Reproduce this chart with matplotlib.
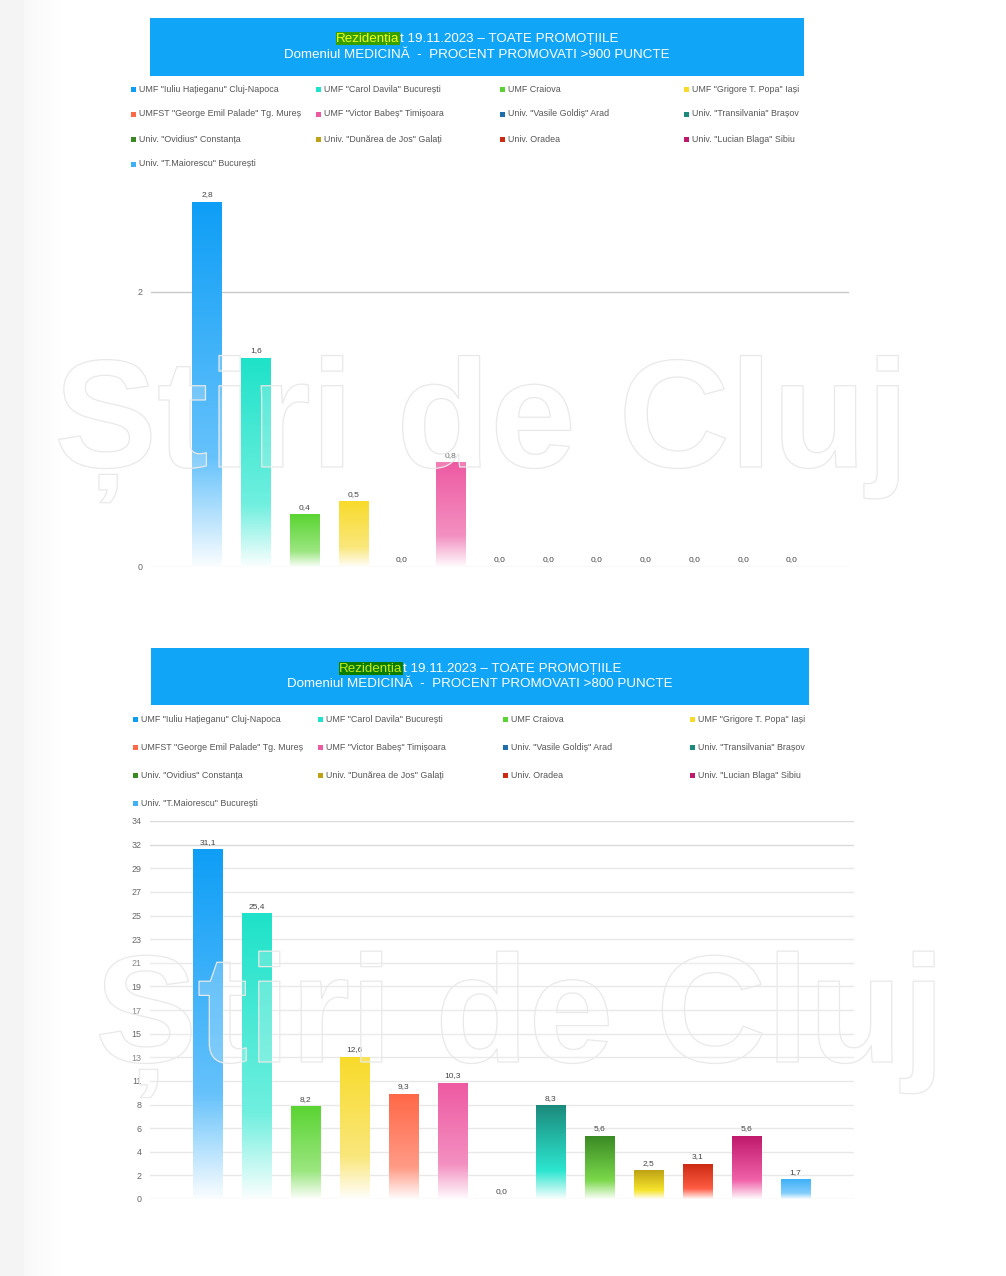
import numpy as np
import matplotlib
matplotlib.use('Agg')
import matplotlib.pyplot as plt
from matplotlib.patches import Rectangle
import matplotlib.patheffects as pe
from matplotlib.colors import to_rgb

plt.rcParams['font.family'] = ['Liberation Sans', 'DejaVu Sans']

# ---------------- data ----------------
universities = [
    'UMF "Iuliu Hațieganu" Cluj-Napoca',
    'UMF "Carol Davila" București',
    'UMF Craiova',
    'UMF "Grigore T. Popa" Iași',
    'UMFST "George Emil Palade" Tg. Mureș',
    'UMF "Victor Babeș" Timișoara',
    'Univ. "Vasile Goldiș" Arad',
    'Univ. "Transilvania" Brașov',
    'Univ. "Ovidius" Constanța',
    'Univ. "Dunărea de Jos" Galați',
    'Univ. Oradea',
    'Univ. "Lucian Blaga" Sibiu',
    'Univ. "T.Maiorescu" București',
]
values_900 = [2.8, 1.6, 0.4, 0.5, 0.0, 0.8, 0.0, 0.0, 0.0, 0.0, 0.0, 0.0, 0.0]
values_800 = [31.1, 25.4, 8.2, 12.6, 9.3, 10.3, 0.0, 8.3, 5.6, 2.5, 3.1, 5.6, 1.7]
ytick_labels_900 = ['0', '2']
ytick_labels_800 = ['0', '2', '4', '6', '8', '11', '13', '15', '17', '19',
                    '21', '23', '25', '27', '29', '32', '34']
title_highlight = 'Rezidenția'
title_line1_rest = 't 19.11.2023 – TOATE PROMOȚIILE'
title_line2_900 = 'Domeniul MEDICINĂ  -  PROCENT PROMOVATI >900 PUNCTE'
title_line2_800 = 'Domeniul MEDICINĂ  -  PROCENT PROMOVATI >800 PUNCTE'
watermark_text = 'Știri de Cluj'

# ---------------- styles ----------------
colors_top = ['#0e9ef6', '#1ee2c9', '#5ad432', '#f8db2a', '#ff6848', '#ee5aa2',
              '#1f6fae', '#1b8a7c', '#3a8a24', '#bea215', '#cc2a12', '#c0196c', '#3fb1f8']
colors_mid = ['#66c2fb', '#70efdf', '#9be680', '#fae77c', '#ff9b86', '#f390c1',
              '#6aa6d4', '#2de6d0', '#7ad84a', '#f6e42c', '#ff5c44', '#f062a9', '#82cdfb']

W, H = 1006, 1276
fig = plt.figure(figsize=(W / 100, H / 100), dpi=100)
fig.patch.set_facecolor('white')


def fx(x):
    return x / W


def fy(y):
    return 1 - y / H


# left gray strip
bg = fig.add_axes([0, 0, 60 / W, 1])
grad = np.ones((1, 60, 3))
for k in range(60):
    v = 0.958 if k < 24 else 0.975 + (1 - 0.975) * (k - 24) / 36
    grad[0, k, :] = v
bg.imshow(grad, aspect='auto', extent=[0, 1, 0, 1])
bg.axis('off')

renderer = fig.canvas.get_renderer()


def title_box(x0, x1, y0, y1, line2, hl_bg, hl_fg):
    fig.patches.append(Rectangle((fx(x0), fy(y1)), (x1 - x0) / W, (y1 - y0) / H,
                                 transform=fig.transFigure, facecolor='#10a5f6',
                                 edgecolor='none', zorder=1))
    cx = (x0 + x1) / 2
    yl1 = y0 + (y1 - y0) * 0.36
    yl2 = y0 + (y1 - y0) * 0.64
    fs = 9.6
    fig.text(fx(cx), fy(yl2), line2, ha='center', va='center', fontsize=fs,
             color='white', zorder=3)
    t1 = fig.text(0, fy(yl1), title_highlight, ha='left', va='center', fontsize=fs,
                  color=hl_fg, zorder=3,
                  bbox=dict(facecolor=hl_bg, edgecolor='none', pad=0.4))
    t2 = fig.text(0, fy(yl1), title_line1_rest, ha='left', va='center', fontsize=fs,
                  color='white', zorder=4)
    w1 = t1.get_window_extent(renderer).width
    w2 = t2.get_window_extent(renderer).width
    xs = cx - (w1 + w2) / 2
    t1.set_x(fx(xs))
    t2.set_x(fx(xs + w1 + 0.5))


def legend(cols_x, rows_y):
    for i, name in enumerate(universities):
        c, r = i % 4, i // 4
        x, y = cols_x[c], rows_y[r]
        fig.patches.append(Rectangle((fx(x), fy(y + 2.5)), 5 / W, 5 / H,
                                     transform=fig.transFigure,
                                     facecolor=colors_top[i], edgecolor='none'))
        fig.text(fx(x + 8), fy(y), name, ha='left', va='center', fontsize=6.4,
                 color='#555555')


def grad_img(top, mid):
    n = 200
    t = np.linspace(0, 1, n)
    top, mid, wh = np.array(to_rgb(top)), np.array(to_rgb(mid)), np.ones(3)
    img = np.zeros((n, 1, 3))
    for k, tt in enumerate(t):
        if tt < 0.7:
            a = tt / 0.7
            col = top * (1 - a) + mid * a
        else:
            a = (tt - 0.7) / 0.3
            col = mid * (1 - a) + (wh * 0.97 + mid * 0.03) * a
        img[k, 0, :] = col
    return img


def chart(rect_px, values, xlim, ylim, yticks, yticklabels, grid_colors):
    l, r, t, b = rect_px
    ax = fig.add_axes([fx(l), fy(b), (r - l) / W, (b - t) / H])
    ax.set_facecolor('none')
    w = 0.6
    for i, v in enumerate(values):
        if v > 0:
            ax.imshow(grad_img(colors_top[i], colors_mid[i]),
                      extent=[i - w / 2, i + w / 2, 0, v], aspect='auto',
                      origin='upper', zorder=3, interpolation='bilinear')
        ax.annotate(f'{v:.1f}'.replace('.', ','), (i, v), xytext=(0, 3),
                    textcoords='offset points', ha='center', va='bottom',
                    fontsize=6, color='#444444', zorder=4)
    for yt, gc in zip(yticks, grid_colors):
        ax.axhline(yt, color=gc, lw=1, zorder=1)
    ax.set_xlim(*xlim)
    ax.set_ylim(*ylim)
    ax.set_yticks(yticks)
    ax.set_yticklabels(yticklabels, fontsize=6.4, color='#666666')
    ax.tick_params(axis='y', length=0, pad=6)
    ax.set_xticks([])
    for s in ax.spines.values():
        s.set_visible(False)
    return ax


def watermark(cx, baseline, width):
    t = fig.text(fx(cx), fy(baseline), watermark_text, ha='center', va='baseline',
                 fontsize=100, fontweight='bold', color=(1, 1, 1, 0.12), zorder=20)
    wd = t.get_window_extent(renderer).width
    t.set_fontsize(100 * width / wd)
    t.set_path_effects([pe.withStroke(linewidth=0.9, foreground='#e8e8e8')])


# ---------------- chart 1 ----------------
title_box(150, 804, 18, 76, title_line2_900, '#35a000', '#f4ff1a')
legend([131, 316, 500, 684], [89, 114, 139, 164])
chart((151, 849, 189, 567), values_900, (-1.149, 13.17), (0, 2.9),
      [0, 2.11], ytick_labels_900, ['#e2e2e2', '#c8c8c8'])
watermark(482, 467, 855)

# ---------------- chart 2 ----------------
title_box(151, 809, 648, 705, title_line2_800, '#0b7e00', '#c6ec1a')
legend([133, 318, 503, 690], [719, 747, 775, 803])
ymax2 = 33.68
ticks2 = list(np.linspace(0, ymax2, len(ytick_labels_800)))
gc2 = ['#e8e8e8'] * (len(ticks2) - 2) + ['#dadada', '#dadada']
chart((150, 854, 821, 1199), values_800, (-1.186, 13.2), (0, ymax2),
      ticks2, ytick_labels_800, gc2)
watermark(520, 1062, 850)

fig.savefig('out.png', dpi=100, facecolor='white')
